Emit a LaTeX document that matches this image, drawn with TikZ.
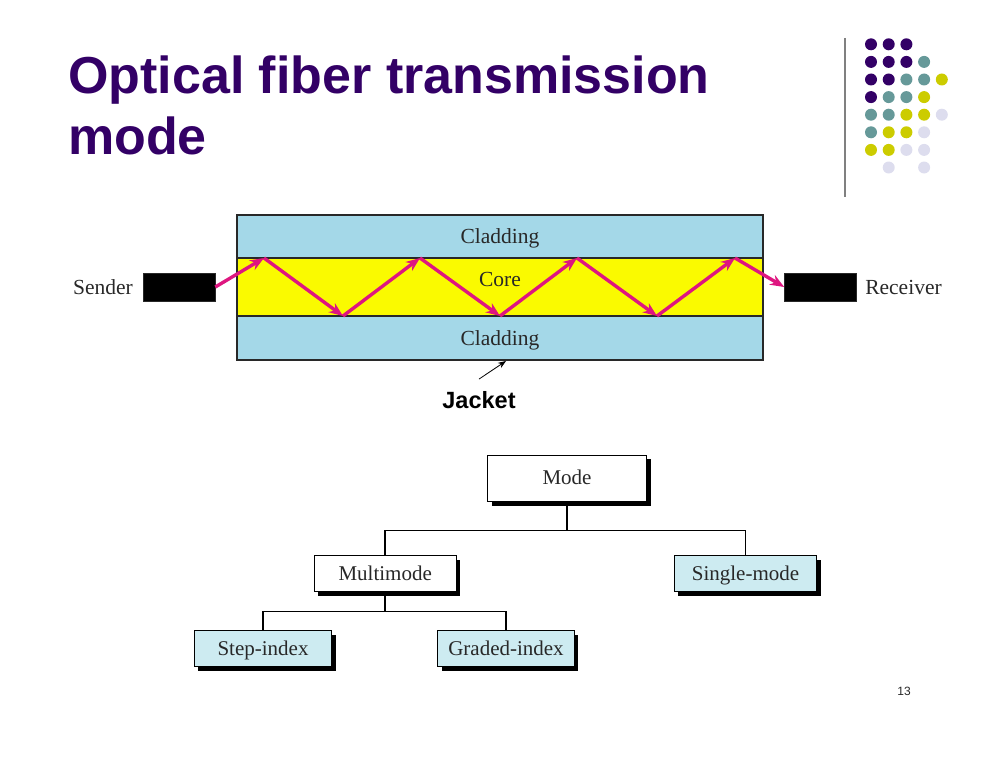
\documentclass[tikz,border=0pt]{standalone}
\usepackage{fontspec}
\setmainfont{Liberation Serif}
\newfontfamily\headfont{Liberation Sans}
\usetikzlibrary{arrows.meta,shadows,positioning}
\definecolor{titlepurple}{RGB}{51,0,102}
\definecolor{dotteal}{RGB}{102,153,153}
\definecolor{dotyellow}{RGB}{204,204,0}
\definecolor{dotlilac}{RGB}{221,221,238}
\definecolor{cladblue}{RGB}{164,216,232}
\definecolor{coreyellow}{RGB}{250,250,0}
\definecolor{raypink}{RGB}{222,22,128}
\definecolor{leafblue}{RGB}{205,235,241}
\definecolor{inkgray}{RGB}{40,40,40}

\begin{document}
\begin{tikzpicture}[x=1pt,y=-1pt,
		titletext/.style={inner sep=0pt,text=titlepurple,font=\headfont\bfseries\fontsize{52}{60}\selectfont},
		fibrelabel/.style={inner sep=0pt,anchor=base,text=inkgray,font=\fontsize{21.5}{25}\selectfont},
		ray/.style={line width=3.4pt,draw=raypink,-{Stealth[length=14pt,width=11pt]}},
		blackbox/.style={fill=black,draw=inkgray,line width=0.6pt,minimum width=72pt,minimum height=28pt,inner sep=0pt},
		modebox/.style={draw=black,line width=0.9pt,fill=white,inner sep=0pt,minimum height=36pt,text=inkgray,
			text height=17pt,text depth=4pt,
			font=\fontsize{21}{25}\selectfont,drop shadow={shadow xshift=4pt,shadow yshift=-4pt,fill=black,opacity=1}},
		leafbox/.style={modebox,fill=leafblue},
		tie/.style={line width=1.5pt,draw=black}]
	\useasboundingbox (0,0) rectangle (987,765);
	% title and corner decoration
	\node[titletext,anchor=base west] (title1) at (68,94) {Optical fiber transmission};
	\node[titletext,anchor=base west] (title2) at (68,154) {mode};
	\draw[gray,line width=2.5pt] (845,38) -- (845,197);
	\foreach \c/\r/\col in {0/0/titlepurple,1/0/titlepurple,2/0/titlepurple,
			0/1/titlepurple,1/1/titlepurple,2/1/titlepurple,3/1/dotteal,
			0/2/titlepurple,1/2/titlepurple,2/2/dotteal,3/2/dotteal,4/2/dotyellow,
			0/3/titlepurple,1/3/dotteal,2/3/dotteal,3/3/dotyellow,
			0/4/dotteal,1/4/dotteal,2/4/dotyellow,3/4/dotyellow,4/4/dotlilac,
			0/5/dotteal,1/5/dotyellow,2/5/dotyellow,3/5/dotlilac,
			0/6/dotyellow,1/6/dotyellow,2/6/dotlilac,3/6/dotlilac,
			1/7/dotlilac,3/7/dotlilac}
		\fill[\col] ({871+17.7*\c},{44.3+17.6*\r}) circle (6);
	% fibre
	\fill[cladblue] (237,215) rectangle (763,360);
	\fill[coreyellow] (237,258) rectangle (763,316);
	\draw[inkgray,line width=1.2pt] (237,215) rectangle (763,360);
	\draw[inkgray,line width=1.2pt] (237,258) -- (763,258) (237,316) -- (763,316);
	\node[fibrelabel] (cladtop) at (500,243.5) {Cladding};
	\node[fibrelabel] (core) at (500,286.7) {Core};
	\node[fibrelabel] (cladbot) at (500,345) {Cladding};
	\node[blackbox] (sendbox) at (179,287) {};
	\node[blackbox] (recvbox) at (820.5,287) {};
	\node[fibrelabel,anchor=center,left of=sendbox,node distance=76pt] (sender) {Sender};
	\node[fibrelabel,anchor=center,right of=recvbox,node distance=83pt] (receiver) {Receiver};
	\foreach \i/\x/\y in {1/264/258,2/343/316,3/420/258,4/500/316,5/577/258,6/657/316,7/735/258}
		\coordinate (r\i) at (\x,\y);
	\draw[ray] (sendbox.east) -- (r1);
	\foreach \a/\b in {r1/r2,r2/r3,r3/r4,r4/r5,r5/r6,r6/r7}
		\draw[ray] (\a) -- (\b);
	\draw[ray] (r7) -- (recvbox.west);
	\node[inner sep=0pt,anchor=base,font=\headfont\bfseries\fontsize{23.5}{28}\selectfont] (jacket) at (479,408.3) {Jacket};
	\coordinate (jackettip) at (506,361);
	\draw[line width=0.8pt,-{Stealth[length=8pt,width=6pt]}] ([yshift=12pt]jacket.north) -- (jackettip);
	% mode tree
	\node[modebox,minimum width=159pt,minimum height=46.5pt] (mode) at (567,478.3) {Mode};
	\node[modebox,minimum width=141.7pt] (multi) at (385.2,573.8) {Multimode};
	\node[leafbox,minimum width=142.4pt] (single) at (745.5,573.8) {Single-mode};
	\node[leafbox,minimum width=137.4pt] (stepidx) at (263,648.7) {Step-index};
	\node[leafbox,minimum width=136.6pt] (gradedidx) at (506,648.7) {Graded-index};
	\draw[tie] (mode.south) -- ++(0,28.5) coordinate (modebus) -| (multi.north);
	\draw[tie] (modebus) -| (single.north);
	\draw[tie] (multi.south) -- ++(0,19) coordinate (multibus) -| (stepidx.north);
	\draw[tie] (multibus) -| (gradedidx.north);
	\node[inner sep=0pt,text=inkgray,font=\headfont\fontsize{12}{14}\selectfont] (pageno) at (904,691) {13};
\end{tikzpicture}
\end{document}
